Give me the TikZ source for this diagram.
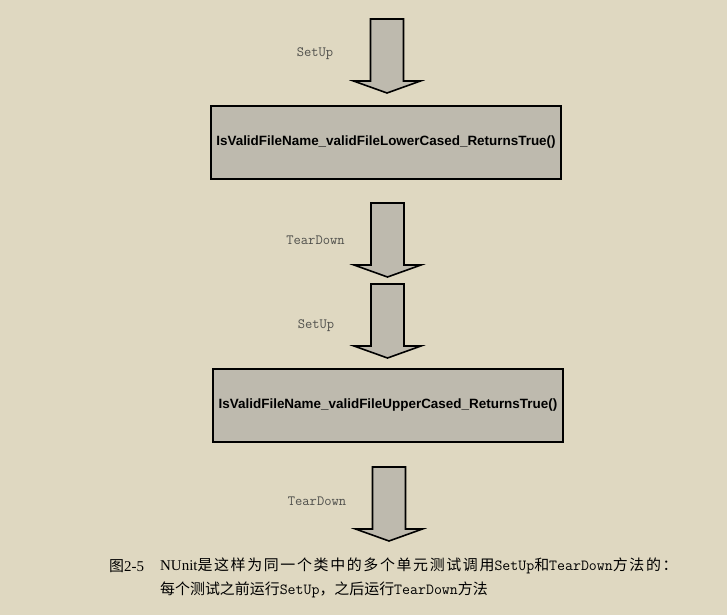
\documentclass[tikz,border=0pt]{standalone}
\usepackage{fontspec}
\setmainfont{Liberation Serif}
\setsansfont{Liberation Sans}
\newfontfamily\cjk{Noto Sans CJK SC}
\newfontfamily\cjkwide[LetterSpace=11]{Noto Sans CJK SC}
\usetikzlibrary{positioning}
\definecolor{paper}{RGB}{223,216,193}
\definecolor{boxgray}{RGB}{190,186,174}
\definecolor{labelgray}{RGB}{80,80,76}
\newcommand{\zh}[1]{{\cjk #1}}
\newcommand{\zhw}[1]{{\cjkwide #1}}
\newcommand{\code}[1]{{\fontsize{15.5}{17}\ttfamily #1}}

\begin{document}
\begin{tikzpicture}[x=1bp, y=-1bp,
    testbox/.style={rectangle, draw=black, fill=boxgray, line width=1.6bp,
                    minimum width=350bp, minimum height=73bp, inner sep=0pt,
                    font=\fontsize{13.5}{15}\sffamily\bfseries},
    lbl/.style={font=\fontsize{14.2}{16}\ttfamily, text=labelgray, inner sep=0pt},
    capt/.style={font=\fontsize{15}{17}\rmfamily, anchor=west, inner sep=0pt},
    downarr/.pic={
        \draw[black, fill=boxgray, line width=1.6bp, line join=miter]
            (-16.5,0) -- (16.5,0) -- (16.5,62) -- (33.5,62) -- (0,74)
            -- (-33.5,62) -- (-16.5,62) -- cycle;
    }
]
    \fill[paper] (0,0) rectangle (727,615);

    % tests
    \node[testbox] (lower) at (386,142.5) {IsValidFileName\_validFileLowerCased\_ReturnsTrue()};
    \node[testbox] (upper) at (388,405.5) {IsValidFileName\_validFileUpperCased\_ReturnsTrue()};

    % setup / teardown steps
    \pic at (387,19) {downarr};
    \pic at (387.5,203) {downarr};
    \pic at (387.5,284) {downarr};
    \pic at (389,467) {downarr};

    \node[lbl] (setupA) at (315,54) {SetUp};
    \node[lbl] (teardownA) at (315.5,240) {TearDown};
    \node[lbl] (setupB) at (316,326) {SetUp};
    \node[lbl] (teardownB) at (317,501) {TearDown};

    % caption
    \node[capt] (fignum) at (109,566) {\zh{图}2-5};
    \node[capt] (captA) at (160,566) {NUnit\zhw{是这样为同一个类中的多个单元测试调用}\code{SetUp}\zhw{和}\code{TearDown}\zhw{方法的：}};
    \node[capt] (captB) at (160,590) {\zh{每个测试之前运行}\code{SetUp}\zh{，之后运行}\code{TearDown}\zh{方法}};
\end{tikzpicture}
\end{document}
